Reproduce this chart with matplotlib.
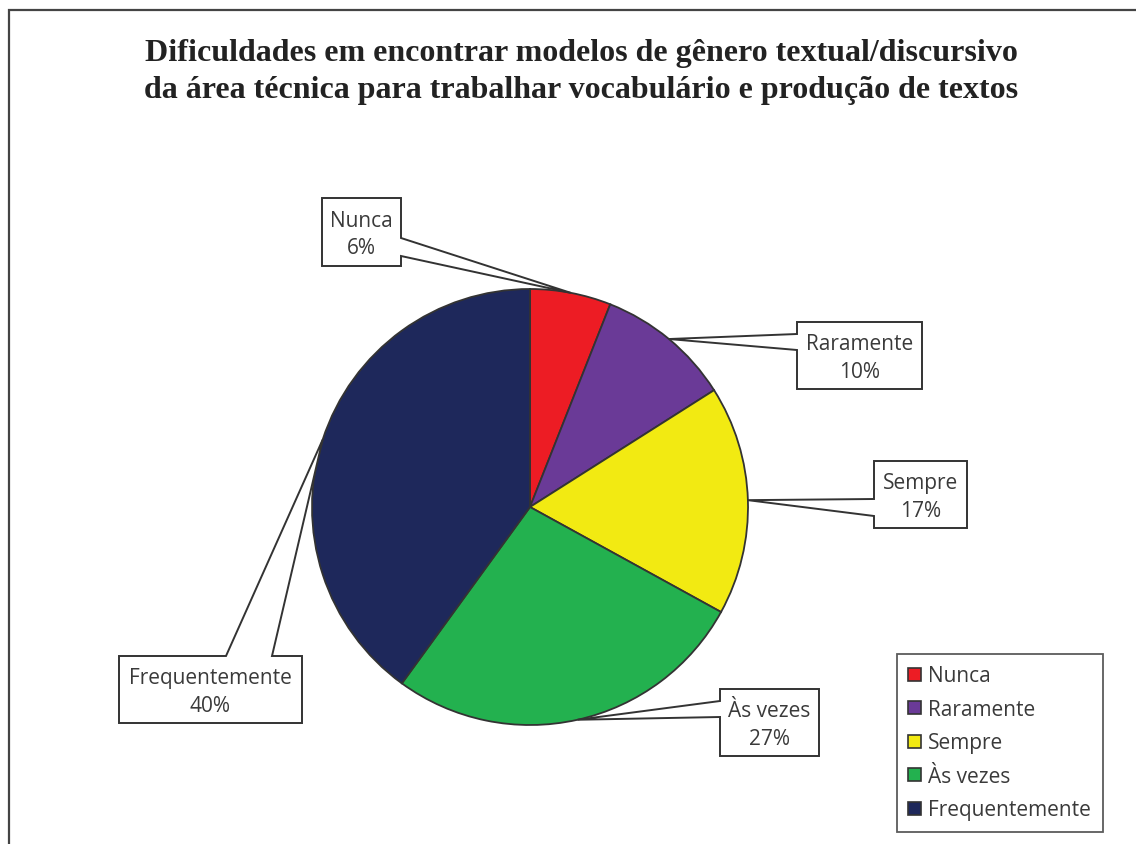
import matplotlib
matplotlib.use('Agg')
import matplotlib.pyplot as plt
import numpy as np
from matplotlib.patches import Polygon, Rectangle, Patch

# data
labels = ['Nunca', 'Raramente', 'Sempre', 'Às vezes', 'Frequentemente']
values = [6, 10, 17, 27, 40]
colors = ['#ED1C24', '#6A3A97', '#F2EA12', '#23B14F', '#1E285B']
title = ('Dificuldades em encontrar modelos de gênero textual/discursivo\n'
         'da área técnica para trabalhar vocabulário e produção de textos')

# callout boxes in pixel coords: (x0, top, x1, bottom), side of pointer, pointer base
boxes = [
    ((322, 199, 401, 267), 'right', (239, 257)),
    ((797, 323, 922, 390), 'left', (335, 351)),
    ((874, 462, 967, 529), 'left', (500, 517)),
    ((720, 690, 819, 757), 'left', (702, 718)),
    ((119, 657, 302, 724), 'top', (226, 272)),
]

W, H = 1136, 845
CX, CY, R = 530, 508, 218
EDGE = '#333333'
TEXT = '#3a3a3a'
label_font = 'Open Sans'


def py(y):
    return H - y


fig = plt.figure(figsize=(W / 100, H / 100), dpi=100)
ax = fig.add_axes([0, 0, 1, 1])

# outer frame (cropped on right and bottom)
ax.add_patch(Rectangle((9, -20), W + 40, py(11) + 20, fill=False,
                       edgecolor='#444444', lw=1.6))

ax.text(581, py(72), title, ha='center', va='center', fontsize=23,
        family='Liberation Serif', fontweight='bold', color='#222222',
        linespacing=1.32)

wedges, _ = ax.pie(values, colors=colors, startangle=90, counterclock=False,
                   center=(CX, py(CY)), radius=R, frame=True,
                   wedgeprops=dict(edgecolor=EDGE, linewidth=1.3))
ax.set_xlim(0, W)
ax.set_ylim(0, H)
ax.set_aspect('auto')
ax.axis('off')

for w, lab, val, (box, side, base) in zip(wedges, labels, values, boxes):
    mid = np.deg2rad((w.theta1 + w.theta2) / 2)
    tip = (CX + R * np.cos(mid), py(CY) + R * np.sin(mid))
    x0, t, x1, b = box
    if side == 'right':
        pts = [(x0, t), (x1, t), (x1, base[0]), tip, (x1, base[1]), (x1, b), (x0, b)]
    elif side == 'left':
        pts = [(x0, t), (x1, t), (x1, b), (x0, b), (x0, base[1]), tip, (x0, base[0])]
    else:
        pts = [(x0, t), (base[0], t), tip, (base[1], t), (x1, t), (x1, b), (x0, b)]
    pts = [(p[0], py(p[1])) if p is not tip else tip for p in pts]
    ax.add_patch(Polygon(pts, closed=True, facecolor='white', edgecolor=EDGE,
                         lw=1.4, zorder=5, joinstyle='miter'))
    ax.text((x0 + x1) / 2, py((t + b) / 2 + 2), '{}\n{}%'.format(lab, val),
            ha='center', va='center', fontsize=15, family=label_font,
            color=TEXT, linespacing=1.42, zorder=6)

handles = [Patch(facecolor=c, edgecolor=EDGE, lw=1.2) for c in colors]
leg = ax.legend(handles, labels, loc='upper left',
                bbox_to_anchor=(897 / W, 1 - 655 / H), bbox_transform=fig.transFigure,
                borderaxespad=0, fancybox=False, frameon=True,
                handlelength=0.6, handleheight=0.6, handletextpad=0.35,
                labelspacing=0.6, borderpad=0.55,
                prop={'family': label_font, 'size': 15})
leg.get_frame().set_edgecolor(EDGE)
leg.get_frame().set_linewidth(1.3)
for t in leg.get_texts():
    t.set_color(TEXT)

fig.savefig('out.png', dpi=100)
